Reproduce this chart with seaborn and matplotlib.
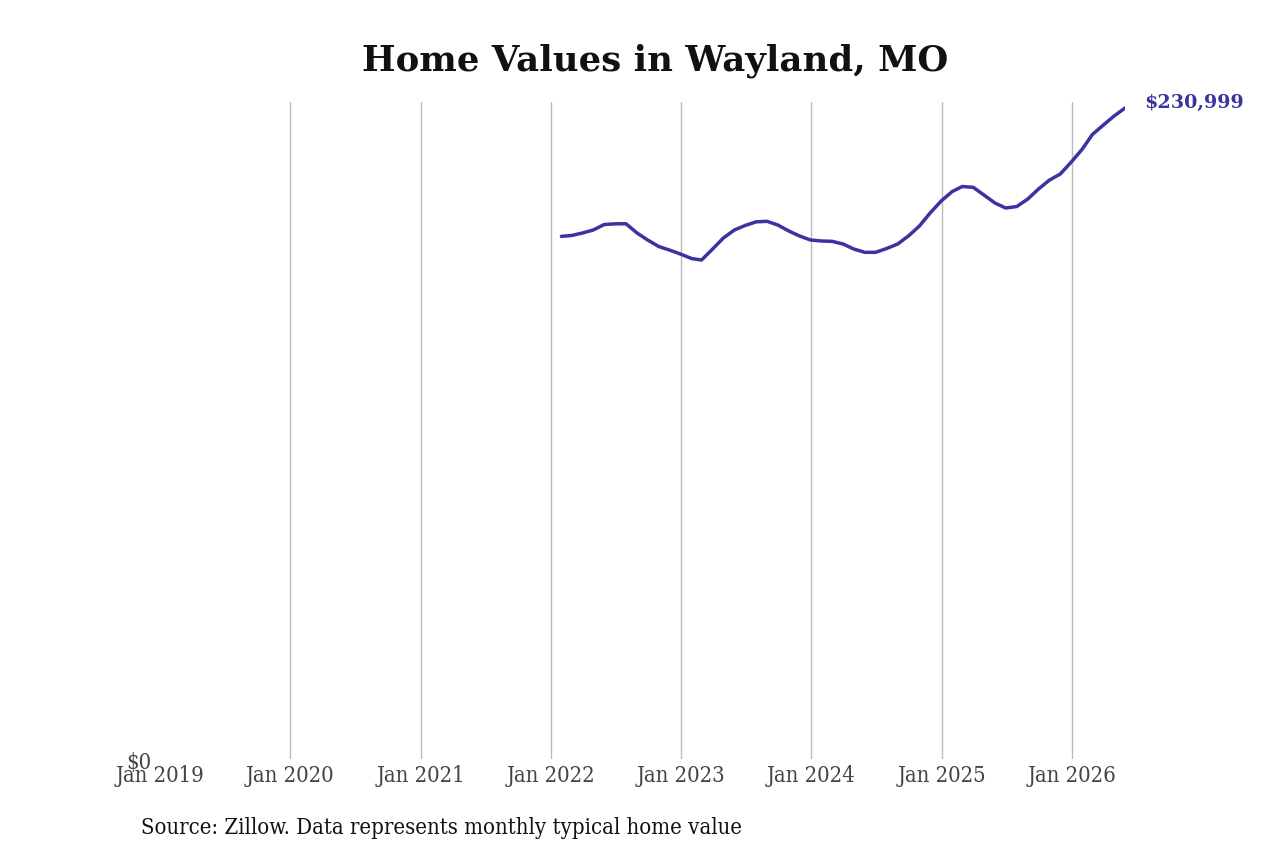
import matplotlib
matplotlib.use("Agg")
import matplotlib.pyplot as plt
import matplotlib.dates as mdates
from matplotlib.ticker import FixedLocator
import seaborn as sns
import pandas as pd

# Data: Zillow month-end typical home values, Wayland, MO
dates = pd.date_range("2022-01-31", "2026-05-31", freq="ME")
values = [
    185450, 185740, 186630, 187690, 189640, 189890, 189920, 186630, 184140, 181840, 180590, 179170,
    177580, 177050, 180950, 184850, 187690, 189290, 190600, 190780, 189460, 187330, 185560, 184140,
    183790, 183680, 182720, 180950, 179780, 179780, 181130, 182720, 185560, 189110, 193720, 197980,
    201350, 203120, 202840, 200110, 197270, 195500, 196030, 198690, 202240, 205430, 207560, 211820,
    216430, 221570, 224940, 228140, 230999,
]
tick_years = [2019, 2020, 2021, 2022, 2023, 2024, 2025, 2026]
tick_labels = [f"Jan {y}" for y in tick_years]
title = "Home Values in Wayland, MO"
source = "Source: Zillow. Data represents monthly typical home value"

df = pd.DataFrame({"date": dates, "value": values})

sns.set_style("white")
plt.rcParams["font.family"] = ["DejaVu Serif"]

fig = plt.figure(figsize=(12.8, 8.53), dpi=100)
ax = fig.add_axes([0.125, 0.109, 0.754, 0.7702])

line_color = "#3a33a0"
sns.lineplot(data=df, x="date", y="value", ax=ax, color=line_color, linewidth=2.5)

ax.set_xlim(pd.Timestamp("2019-01-01"), pd.Timestamp("2026-05-31"))
ax.set_ylim(0, 233100)

tick_pos = [mdates.date2num(pd.Timestamp(f"{y}-01-01")) for y in tick_years]
ax.xaxis.set_major_locator(FixedLocator(tick_pos))
ax.set_xticklabels(tick_labels)
ax.set_yticks([0])
ax.set_yticklabels(["$0"])

for lbl in ax.get_xticklabels() + ax.get_yticklabels():
    lbl.set_fontsize(15.8)
    lbl.set_fontstretch("condensed")
    lbl.set_color("#444444")

ax.tick_params(axis="x", length=0, pad=3.5)
ax.tick_params(axis="y", length=0, pad=6)
ax.grid(axis="x", color="#bbbbbb", linewidth=1)
ax.grid(axis="y", visible=False)
ax.get_xgridlines()[0].set_visible(False)
for s in ax.spines.values():
    s.set_visible(False)
ax.set_xlabel("")
ax.set_ylabel("")

fig.text(0.512, 0.929, title, ha="center", va="center", fontsize=25.6, fontweight="bold", color="#111111")

last_x = df["date"].iloc[-1]
last_y = df["value"].iloc[-1]
ax.annotate(f"${last_y:,.0f}", xy=(last_x, last_y), xytext=(14, 4), textcoords="offset points",
            ha="left", va="center", fontsize=13.8, fontweight="bold", color=line_color,
            annotation_clip=False)

fig.text(0.110, 0.029, source, ha="left", va="center", fontsize=15.8, fontstretch="condensed",
         color="#111111")

fig.savefig("out.png", dpi=100)
